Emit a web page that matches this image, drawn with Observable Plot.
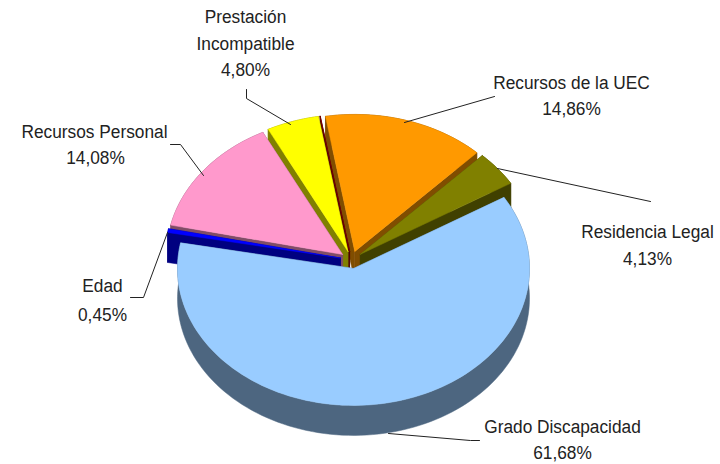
<!DOCTYPE html>
<html><head><meta charset="utf-8">
<script src="https://cdn.jsdelivr.net/npm/d3@7"></script>
<script src="https://cdn.jsdelivr.net/npm/@observablehq/plot@0.6"></script>
<style>html,body{margin:0;padding:0;background:#fff}svg{display:block}
text{font-family:"Liberation Sans",sans-serif}</style>
</head><body><div id="c"></div>
<script>
// clockwise from the first slice
const categories = ["Recursos de la UEC","Residencia Legal","Grado Discapacidad","Edad","Recursos Personal","Prestación Incompatible",""];
const values = [14.86,4.13,61.68,0.45,14.08,4.80,0.02];
const valueLabels = ["14,86%","4,13%","61,68%","0,45%","14,08%","4,80%",""];
const topColors = ["#FF9900","#808000","#99CCFF","#0000FF","#FF99CC","#FFFF00","#800000"];
const wallColors = ["#804D00","#404000","#4D6680","#000080","#804D66","#808000","#4D0000"];
const paintOrder = [0,6,5,4,3,1,2];
const leaders = [
  [[246,89],[246,98],[290,124]],
  [[170,144],[180,144],[203,175]],
  [[494,96],[404,122]],
  [[497,168],[650,201]],
  [[130,297],[143,297],[167,232]],
  [[388,433],[470,440],[479,440]]
];
const labels = [
  {x:245,y:16,t:"Prestación"},{x:245,y:43,t:"Incompatible"},{x:245,y:69,t:"4,80%"},
  {x:94,y:131,t:"Recursos Personal"},{x:95,y:157,t:"14,08%"},
  {x:571,y:82,t:"Recursos de la UEC"},{x:571,y:108,t:"14,86%"},
  {x:647,y:231,t:"Residencia Legal"},{x:647,y:258,t:"4,13%"},
  {x:102,y:285,t:"Edad"},{x:102,y:314,t:"0,45%"},
  {x:562,y:426,t:"Grado Discapacidad"},{x:562,y:452,t:"61,68%"}
];
const cx=351, cy=259.3, rx=176, ry=137, depth=30, explode=0.064, start=350.4*Math.PI/180;
const total=d3.sum(values);
let a=start; const polys=[];
const slices=values.map((v,i)=>{const s=a; a+=v/total*2*Math.PI; return {i,s,e:a};});
const pt=(ax,ay,t,r=1)=>[ax+r*rx*Math.sin(t),ay-r*ry*Math.cos(t)];
let pid=0;
function add(points,fill){const id=pid++;points.forEach(p=>polys.push({id,x:p[0],y:p[1],fill}));}
for(const k of paintOrder){
  const {s,e}=slices[k], m=(s+e)/2;
  const [ax,ay]=pt(cx,cy,m,explode);
  const n=Math.max(2,Math.ceil((e-s)/(Math.PI/90)));
  const arc=d3.range(n+1).map(j=>pt(ax,ay,s+(e-s)*j/n));
  const down=p=>[p[0],p[1]+depth];
  const apex=[ax,ay];
  add([apex,arc[0],down(arc[0]),down(apex),apex],wallColors[k]);
  add([apex,arc[n],down(arc[n]),down(apex),apex],wallColors[k]);
  add([...arc,...arc.slice().reverse().map(down),arc[0]],wallColors[k]);
  add([apex,...arc,apex],topColors[k]);
}
const leaderRows=leaders.flatMap((l,id)=>l.map(p=>({id,x:p[0],y:p[1]})));
const plot=Plot.plot({
  width:720,height:464,margin:0,
  x:{domain:[0,720],range:[0,720],axis:null},
  y:{domain:[0,464],range:[0,464],axis:null},
  color:{type:"identity"},
  marks:[
    Plot.line(polys,{x:"x",y:"y",z:"id",fill:"fill",stroke:"fill",strokeWidth:0.5,curve:"linear"}),
    Plot.line(leaderRows,{x:"x",y:"y",z:"id",stroke:"#222",strokeWidth:1}),
    Plot.text(labels,{x:"x",y:"y",text:"t",fontSize:19,fill:"#222",textAnchor:"middle",lineAnchor:"middle"})
  ]
});
document.getElementById("c").appendChild(plot);
plot.querySelectorAll("text").forEach(t=>{
  t.setAttribute("transform",(t.getAttribute("transform")||"")+" scale(0.91,1)");
});
</script></body></html>
